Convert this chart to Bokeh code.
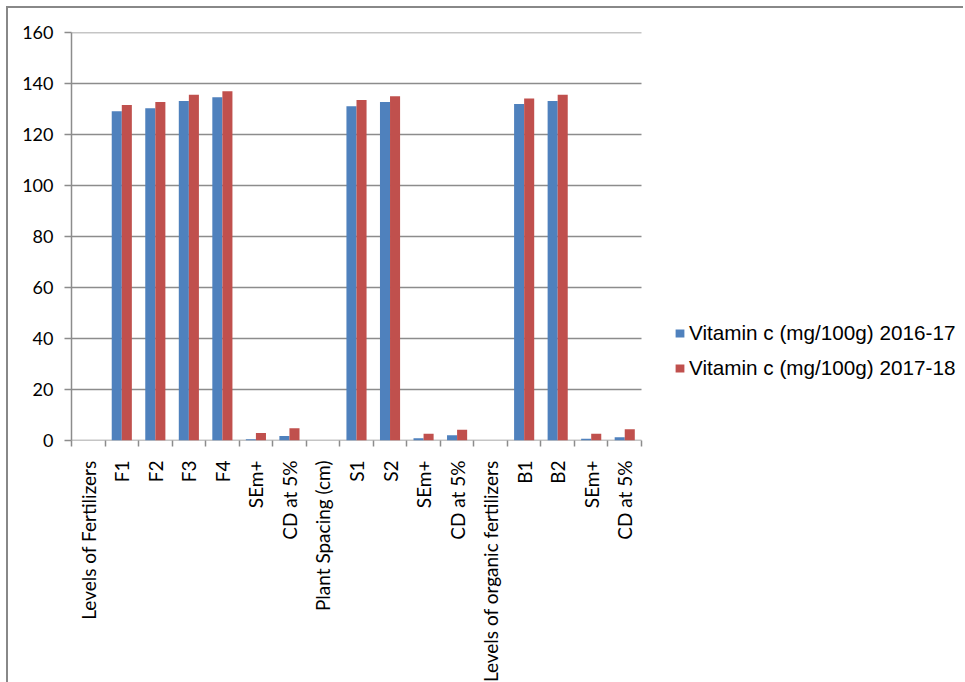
import math
from bokeh.plotting import figure
from bokeh.models import (ColumnDataSource, FixedTicker, Legend, LegendItem, Range1d)
from bokeh.embed import file_html
from bokeh.resources import INLINE

categories = ["Levels of Fertilizers", "F1", "F2", "F3", "F4", "SEm+", "CD at 5%",
              "Plant Spacing (cm)", "S1", "S2", "SEm+", "CD at 5%",
              "Levels of organic fertilizers", "B1", "B2", "SEm+", "CD at 5%"]
vitc_2016_17 = [0, 129.1, 130.3, 133.1, 134.6, 0.5, 1.8,
                0, 131.1, 132.7, 0.9, 2.1,
                0, 132.0, 133.1, 0.7, 1.3]
vitc_2017_18 = [0, 131.6, 132.7, 135.6, 137.0, 2.9, 4.8,
                0, 133.5, 135.0, 2.6, 4.2,
                0, 134.1, 135.6, 2.6, 4.4]
series_names = ["Vitamin c (mg/100g) 2016-17", "Vitamin c (mg/100g) 2017-18"]
y_ticks = [0, 20, 40, 60, 80, 100, 120, 140, 160]

BLUE = "#4F81BD"
RED = "#C0504D"
GRID = "#8c8c8c"

W, H = 957, 680
LEFT, TOP = 63, 24
FRAME_BOTTOM = 432
PLOT_RIGHT = 633  # right edge of the category area, in figure pixels

n = len(categories)
centers = [i + 0.5 for i in range(n)]
bw = 0.3
x_end = n * (W - LEFT) / (PLOT_RIGHT - LEFT)

p = figure(width=W, height=H, output_backend="svg", toolbar_location=None,
           x_range=Range1d(0, x_end), y_range=Range1d(0, 160),
           min_border_left=LEFT, min_border_top=TOP, min_border_right=0,
           min_border_bottom=H - FRAME_BOTTOM)
p.styles = {"border-left": "2px solid #888888", "border-top": "2px solid #888888",
            "margin-left": "6px", "margin-top": "6px", "margin-bottom": "-20px"}
p.outline_line_color = None
p.background_fill_color = "white"
p.border_fill_color = "white"

# horizontal gridlines and x axis line, limited to the category area
p.segment(x0=[0] * len(y_ticks), x1=[n] * len(y_ticks), y0=y_ticks, y1=y_ticks,
          line_color=GRID, line_width=1.5)

src = ColumnDataSource(dict(x1=[c - bw / 2 for c in centers],
                            x2=[c + bw / 2 for c in centers],
                            a=vitc_2016_17, b=vitc_2017_18))
r1 = p.vbar(x="x1", top="a", width=bw, source=src, fill_color=BLUE,
            line_color=None)
r2 = p.vbar(x="x2", top="b", width=bw, source=src, fill_color=RED,
            line_color=None)

# x axis
p.xaxis.ticker = FixedTicker(ticks=centers, minor_ticks=list(range(n + 1)))
p.xaxis.major_label_overrides = {c: lab for c, lab in zip(centers, categories)}
p.xaxis.major_label_orientation = math.pi / 2
p.xaxis.major_tick_out = 0
p.xaxis.major_tick_in = 0
p.xaxis.minor_tick_out = 6
p.xaxis.minor_tick_in = 0
p.xaxis.minor_tick_line_color = GRID
p.xaxis.minor_tick_line_width = 1.5
p.xaxis.axis_line_color = None
p.xaxis.major_label_text_font = "Lato"
p.xaxis.major_label_text_font_size = "19px"
p.xaxis.major_label_text_color = "black"
p.xaxis.major_label_standoff = 14

# y axis
p.yaxis.ticker = FixedTicker(ticks=y_ticks)
p.yaxis.major_tick_out = 7
p.yaxis.major_tick_in = 0
p.yaxis.minor_tick_line_color = None
p.yaxis.major_tick_line_color = GRID
p.yaxis.major_tick_line_width = 1.5
p.yaxis.axis_line_color = GRID
p.yaxis.axis_line_width = 1.5
p.yaxis.major_label_text_font = "Lato"
p.yaxis.major_label_text_font_size = "18px"
p.yaxis.major_label_text_color = "black"
p.yaxis.major_label_standoff = 11

p.xgrid.grid_line_color = None
p.ygrid.grid_line_color = None

legend = Legend(items=[LegendItem(label=series_names[0], renderers=[r1]),
                       LegendItem(label=series_names[1], renderers=[r2])],
                location=(603, 60), orientation="vertical",
                glyph_width=11, glyph_height=10, label_standoff=4,
                spacing=11, padding=0, margin=0,
                label_text_font="Liberation Sans", label_text_font_size="20.7px",
                label_text_color="black", border_line_color=None,
                background_fill_alpha=0)
p.add_layout(legend, "center")

open("out.html", "w").write(file_html(p, INLINE))
